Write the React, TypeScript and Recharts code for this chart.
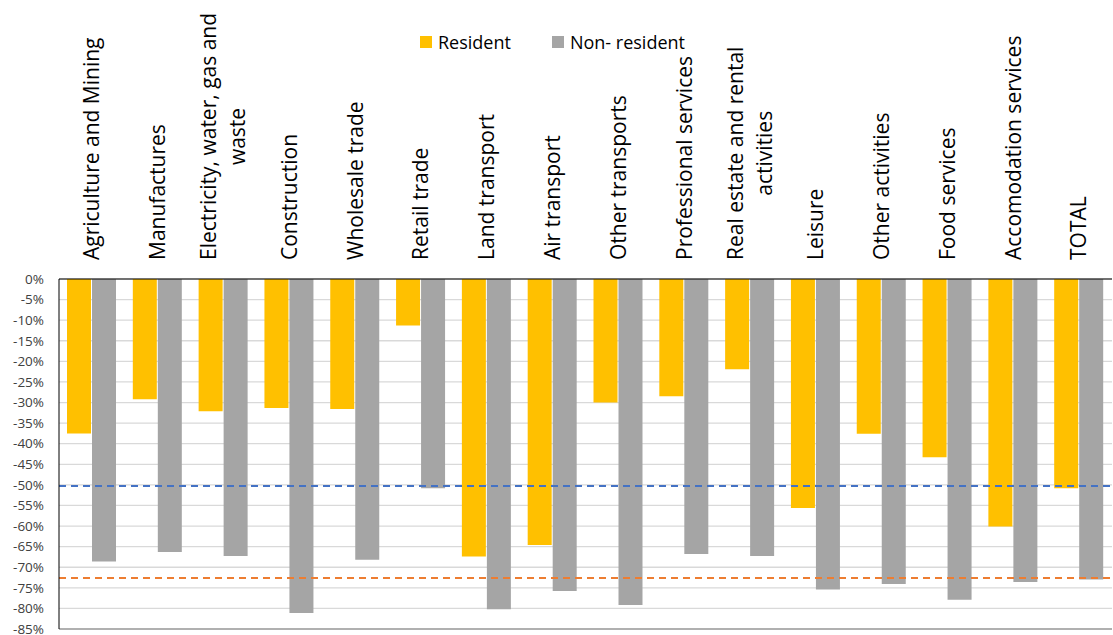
import React from 'react';
import { BarChart, Bar, XAxis, YAxis, CartesianGrid, ReferenceLine, Legend } from 'recharts';

const FONT = '"Open Sans", sans-serif';
const LABEL_SIZE = 21;

// category labels, "\n" marks where the original wraps
const sectors = [
    'Agriculture and Mining',
    'Manufactures',
    'Electricity, water, gas and\nwaste',
    'Construction',
    'Wholesale trade',
    'Retail trade',
    'Land transport',
    'Air transport',
    'Other transports',
    'Professional services',
    'Real estate and rental\nactivities',
    'Leisure',
    'Other activities',
    'Food services',
    'Accomodation services',
    'TOTAL',
];

const residentChange = [-37.5, -29.2, -32.1, -31.3, -31.6, -11.3, -67.4, -64.6, -30.0, -28.5, -21.9, -55.6, -37.6, -43.3, -60.1, -50.8];
const nonResidentChange = [-68.6, -66.3, -67.3, -81.1, -68.2, -50.8, -80.2, -75.8, -79.2, -66.8, -67.3, -75.4, -74.1, -77.9, -73.6, -73.0];

const seriesNames = ['Resident', 'Non- resident'];

const yTicks = [0, -5, -10, -15, -20, -25, -30, -35, -40, -45, -50, -55, -60, -65, -70, -75, -80, -85];

// dashed benchmark lines (value, and where they stop in category units)
const benchmarkValues = [-50.3, -72.6];
const benchmarkEnds = [15.45, 15.8];
const benchmarkColors = ['#4472C4', '#ED7D31'];

const rows = sectors.map((name, i) => ({
    name,
    resident: residentChange[i],
    nonResident: nonResidentChange[i],
}));

let measureCtx: CanvasRenderingContext2D | null = null;
function textWidth(s: string) {
    if (!measureCtx) measureCtx = document.createElement('canvas').getContext('2d');
    if (!measureCtx) return s.length * LABEL_SIZE * 0.5;
    measureCtx.font = `${LABEL_SIZE}px "Open Sans"`;
    return measureCtx.measureText(s).width;
}

function SectorTick({ x, y, payload }: any) {
    const lines = String(payload.value).split('\n');
    const widest = Math.max(...lines.map(textWidth));
    return (
        <g transform={`translate(${x},${y - 17}) rotate(-90)`}>
            {lines.map((line, i) => (
                <text
                    key={i}
                    x={widest / 2}
                    y={(i - (lines.length - 1) / 2) * 29}
                    dy="0.35em"
                    textAnchor="middle"
                    fill="#000"
                    fontSize={LABEL_SIZE}
                    fontFamily={FONT}
                >
                    {line}
                </text>
            ))}
        </g>
    );
}

function LegendContent({ payload }: any) {
    const items = [...(payload || [])].sort((a: any, b: any) => seriesNames.indexOf(a.value) - seriesNames.indexOf(b.value));
    return (
        <div style={{ display: 'flex', justifyContent: 'center', gap: 41, fontFamily: FONT, fontSize: 18, lineHeight: '24px', color: '#000' }}>
            {items.map((p: any) => (
                <div key={p.value} style={{ display: 'flex', alignItems: 'center' }}>
                    <span style={{ display: 'inline-block', width: 12, height: 12, background: p.color, marginRight: 6 }} />
                    {p.value}
                </div>
            ))}
        </div>
    );
}

export default function App() {
    return (
        <div style={{ width: 1113, height: 635, background: '#fff' }}>
            <style>{`body { margin: 0; }`}</style>
            <BarChart
                width={1113}
                height={635}
                data={rows}
                margin={{ top: 0, right: 1, bottom: 6, left: 0 }}
                barCategoryGap={8}
                barGap={1}
            >
                <CartesianGrid vertical={false} stroke="#D9D9D9" strokeWidth={1.3} />
                <XAxis
                    dataKey="name"
                    orientation="top"
                    height={279}
                    interval={0}
                    tick={<SectorTick />}
                    tickLine={false}
                    tickSize={0}
                    axisLine={{ stroke: '#000' }}
                />
                <XAxis xAxisId="num" type="number" domain={[0, 16]} allowDataOverflow hide />
                <YAxis
                    width={59}
                    domain={[-85, 0]}
                    ticks={yTicks}
                    interval={0}
                    tickFormatter={(v) => `${v}%`}
                    tick={{ fill: '#404040', fontSize: 13.5, fontFamily: FONT }}
                    tickLine={false}
                    tickSize={0}
                    tickMargin={15}
                    axisLine={{ stroke: '#000' }}
                />
                <Legend
                    verticalAlign="middle"
                    align="center"
                    content={<LegendContent />}
                    wrapperStyle={{ top: 30, left: 0, width: 1105 }}
                />
                <Bar dataKey="resident" name={seriesNames[0]} fill="#FFC000" isAnimationActive={false} />
                <Bar dataKey="nonResident" name={seriesNames[1]} fill="#A5A5A5" isAnimationActive={false} />
                <ReferenceLine y={-85} stroke="#7F7F7F" />
                <ReferenceLine xAxisId="num" x={16} stroke="#7F7F7F" ifOverflow="visible" />
                {benchmarkValues.map((v, i) => (
                    <ReferenceLine
                        key={i}
                        xAxisId="num"
                        ifOverflow="visible"
                        segment={[{ x: 0, y: v }, { x: benchmarkEnds[i], y: v }]}
                        stroke={benchmarkColors[i]}
                        strokeWidth={2}
                        strokeDasharray="7 5"
                    />
                ))}
            </BarChart>
        </div>
    );
}
